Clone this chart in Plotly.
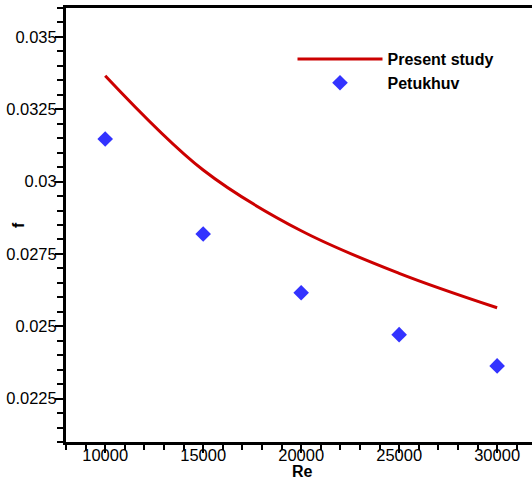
import plotly.graph_objects as go

re_values = [10000, 15000, 20000, 25000, 30000]
f_present = [0.03366, 0.03040, 0.02830, 0.02683, 0.02564]
f_petukhov = [0.03147, 0.02819, 0.02616, 0.02471, 0.02363]

x_ticks = [10000, 15000, 20000, 25000, 30000]
x_tick_labels = ["10000", "15000", "20000", "25000", "30000"]
y_ticks = [0.0225, 0.025, 0.0275, 0.03, 0.0325, 0.035]
y_tick_labels = ["0.0225", "0.025", "0.0275", "0.03", "0.0325", "0.035"]

FONT = "Liberation Sans, Arial, sans-serif"

PL, PT, W, H = 66, 8, 466, 434  # plot area in page pixels

fig = go.Figure()
fig.add_trace(go.Scatter(
    x=re_values, y=f_present, mode="lines", name="<b>Present study</b>",
    line=dict(color="#cc0000", width=3, shape="spline"),
))
fig.add_trace(go.Scatter(
    x=re_values, y=f_petukhov, mode="markers", name="<b>Petukhuv</b>",
    marker=dict(symbol="diamond", size=12, color="#3333ff"),
))

fig.update_layout(
    width=532, height=484,
    margin=dict(l=PL, r=0, t=PT, b=484 - (PT + H)),
    paper_bgcolor="white", plot_bgcolor="white",
    font=dict(family=FONT, size=16, color="black"),
    showlegend=True,
    legend=dict(
        x=(292.5 - PL) / W, y=1 - (42 - PT) / H, xanchor="left", yanchor="top",
        bgcolor="rgba(0,0,0,0)", borderwidth=0, itemwidth=85,
        font=dict(family=FONT, size=16, color="black"),
        tracegroupgap=0,
    ),
    xaxis=dict(
        range=[8000, 31780], showgrid=False, zeroline=False, automargin=False,
        showline=True, linecolor="black", linewidth=3, mirror=True,
        ticks="outside", ticklen=8, tickwidth=1.5, tickcolor="black",
        tickvals=x_ticks, ticktext=x_tick_labels, ticklabelstandoff=-12,
        minor=dict(dtick=1000, tick0=0, ticks="outside", ticklen=5, tickwidth=1.5, tickcolor="black"),
        tickfont=dict(size=16.5),
    ),
    yaxis=dict(
        range=[0.021, 0.036], showgrid=False, zeroline=False, automargin=False,
        showline=True, linecolor="black", linewidth=3, mirror=False,
        ticks="outside", ticklen=8, tickwidth=1.5, tickcolor="black",
        tickvals=y_ticks, ticktext=y_tick_labels, ticklabelstandoff=-5,
        minor=dict(dtick=0.0005, tick0=0, ticks="outside", ticklen=6, tickwidth=1.5, tickcolor="black"),
        tickfont=dict(size=16.5),
    ),
    annotations=[
        dict(text="<b>Re</b>", xref="paper", yref="paper",
             x=(302 - PL) / W, y=-(471 - (PT + H)) / H, xanchor="center", yanchor="middle",
             showarrow=False, font=dict(size=16)),
        dict(text="<b>f</b>", xref="paper", yref="paper",
             x=(18 - PL) / W, y=(PT + H - 225) / H, xanchor="center", yanchor="middle", textangle=-90,
             showarrow=False, font=dict(size=16)),
    ],
)

fig.write_html("out.html", config={"displayModeBar": False},
               post_script="document.body.style.margin='0px';")
